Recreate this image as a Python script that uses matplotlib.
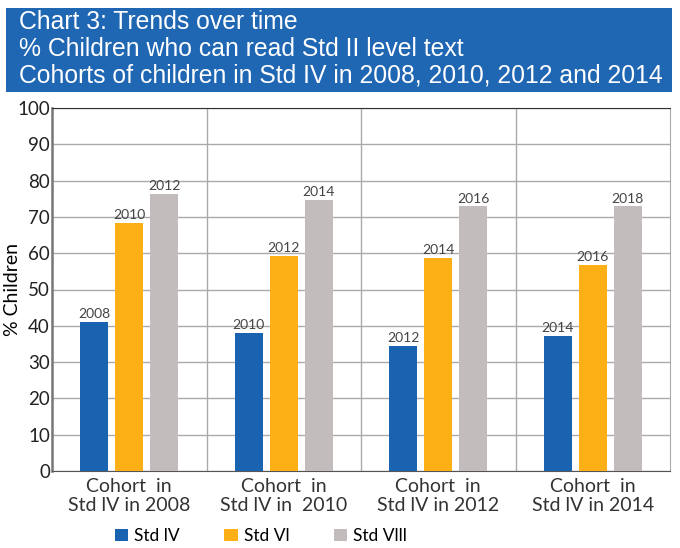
import matplotlib
matplotlib.use("Agg")
import matplotlib.pyplot as plt
import numpy as np
from matplotlib.patches import Rectangle

categories = ["Cohort  in\nStd lV in 2008", "Cohort  in\nStd lV in  2010",
              "Cohort  in\nStd lV in 2012", "Cohort  in\nStd lV in 2014"]
series_names = ["Std lV", "Std Vl", "Std Vlll"]
std4 = [41, 38, 34.5, 37.3]
std6 = [68.3, 59.2, 58.8, 56.8]
std8 = [76.3, 74.6, 72.9, 72.9]
year_labels4 = ["2008", "2010", "2012", "2014"]
year_labels6 = ["2010", "2012", "2014", "2016"]
year_labels8 = ["2012", "2014", "2016", "2018"]
colors = ["#1a63b1", "#fdb016", "#c2bcbc"]

plt.rcParams['font.family'] = ['Lato', 'DejaVu Sans']
W, H = 680, 548
fig = plt.figure(figsize=(W/100, H/100), dpi=100)

# title box
fig.patches.append(Rectangle((6/W, 1-92/H), 666/W, 84/H, transform=fig.transFigure,
                             facecolor="#1f66b3", edgecolor="none", zorder=0))
title_lines = ["Chart 3: Trends over time",
               "% Children who can read Std II level text",
               "Cohorts of children in Std IV in 2008, 2010, 2012 and 2014"]
for i, t in enumerate(title_lines):
    fig.text(19/W, 1-(22+27*i)/H, t, color="white", fontsize=17.8,
             family=["Liberation Sans", "DejaVu Sans"],
             va="center", ha="left")

ax = fig.add_axes([52/W, 1-471/H, 618/W, 363/H])
x = np.arange(len(categories))
step = 0.227
bw = 0.182
series = [std4, std6, std8]
labels = [year_labels4, year_labels6, year_labels8]
for j, (vals, lab) in enumerate(zip(series, labels)):
    pos = x + (j-1)*step
    ax.bar(pos, vals, width=bw, color=colors[j], label=series_names[j], zorder=3)
    for p, v, l in zip(pos, vals, lab):
        ax.text(p, v+0.5, l, ha="center", va="bottom", fontsize=10,
                color="#444444", zorder=4)

ax.set_xlim(-0.5, 3.5)
ax.set_ylim(0, 100)
ax.set_yticks(np.arange(0, 101, 10))
ax.yaxis.grid(True, color="#aaaaaa", linewidth=1.0, zorder=0)
for b in [0.5, 1.5, 2.5]:
    ax.axvline(b, color="#aaaaaa", linewidth=1.0, zorder=0)
for s in ax.spines.values():
    s.set_color("#aaaaaa")
ax.spines["bottom"].set_color("#555555")
ax.spines["left"].set_color("#777777")
ax.spines["left"].set_linewidth(1.8)
ax.spines["top"].set_color("#333333")
ax.set_xticks(x)
ax.set_xticklabels(categories, fontsize=14, color="#333333", linespacing=1.15)
ax.tick_params(axis="x", length=0, pad=5)
ax.tick_params(axis="y", length=0, labelsize=13.5, labelcolor="#222222", pad=1.5)
ax.set_ylabel("% Children", fontsize=14)
ax.yaxis.set_label_coords(-31/618, 0.5)

leg = fig.legend(loc="center left", bbox_to_anchor=(99/W, 1-536/H), ncol=3, frameon=False,
                 handlelength=0.75, handleheight=0.75, columnspacing=2.6,
                 handletextpad=0.35, prop={"size": 12.5})

fig.savefig("out.png", dpi=100)
